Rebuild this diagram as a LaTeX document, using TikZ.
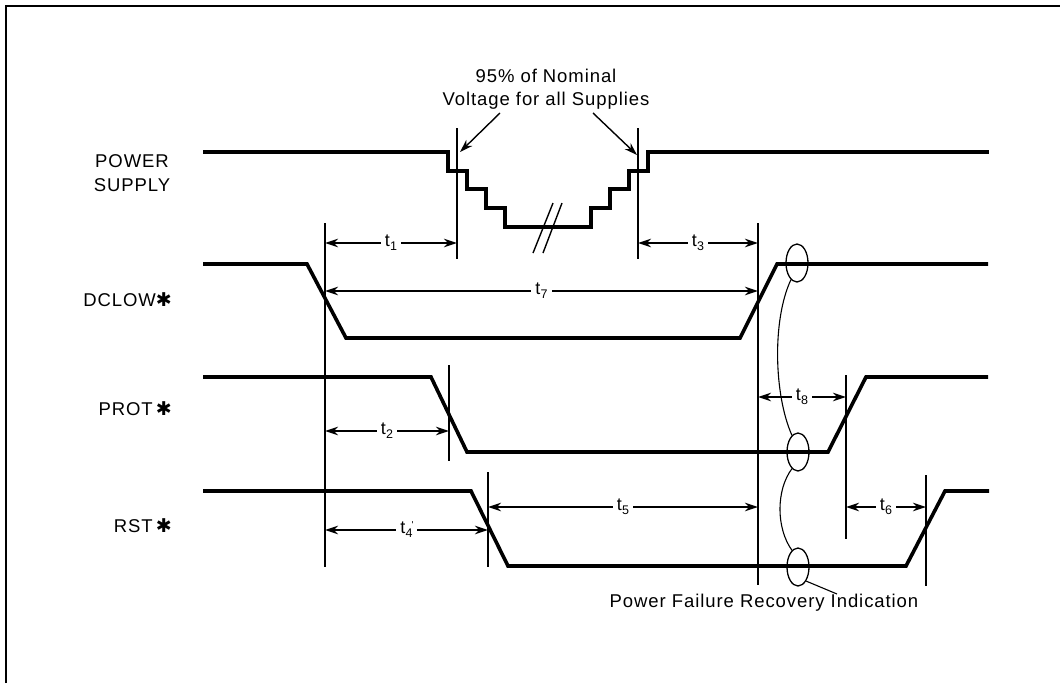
\documentclass[tikz,border=0pt]{standalone}
\usepackage{fontspec}
\setmainfont{Liberation Sans}[LetterSpace=5]
\newfontfamily\symfont{DejaVu Sans}
\usetikzlibrary{arrows.meta,shapes.geometric}
\newcommand{\tsub}[1]{t\kern0.3pt\raisebox{-4pt}{\fontsize{12.5}{12.5}\selectfont #1}}
\newcommand{\hast}{{\symfont\fontsize{19}{19}\selectfont\char"2731}}
\tikzset{
  sig/.style={line width=3.6pt, line join=miter, line cap=butt},
  guide/.style={line width=1.4pt},
  dimline/.style={line width=1.4pt, {Stealth[length=13pt,width=8.5pt]}-{Stealth[length=13pt,width=8.5pt]}},
  ptr/.style={line width=1.4pt, -{Stealth[length=13pt,width=8.5pt]}},
  tlab/.style={fill=white, inner sep=4pt, font=\fontsize{18}{20}\selectfont},
  lab/.style={font=\fontsize{18.5}{23.5}\selectfont, align=center, inner sep=0pt},
  ring/.style={ellipse, draw, line width=1.3pt, minimum width=22pt, minimum height=38pt, inner sep=0pt},
}
\begin{document}
\begin{tikzpicture}[x=1pt,y=-1pt]
\useasboundingbox (0,0) rectangle (1060,683);
% frame
\draw[line width=2.4pt] (6,683) -- (6,6) -- (1060,6);

% signal labels
\node[lab] (lps) at (132,173) {POWER\\SUPPLY};
\node[lab, anchor=east] (ldc) at (172,300) {DCLOW\hast};
\node[lab, anchor=east] (lpr) at (172,409) {PROT\,\hast};
\node[lab, anchor=east] (lrs) at (172,526) {RST\,\hast};

% waveforms
\draw[sig] (203,152) -- (448,152) -- (448,171) -- (467,171) -- (467,189) -- (486,189)
  -- (486,208) -- (505,208) -- (505,227) -- (591,227) -- (591,208) -- (610,208)
  -- (610,189) -- (629,189) -- (629,171) -- (648,171) -- (648,152) -- (989,152);
\draw[guide] (533,253) -- (553,203);
\draw[guide] (543,253) -- (562,203);

\draw[sig] (203,264) -- (307,264) -- (346,338) -- (740,338) -- (777,264) -- (988,264);
\draw[sig] (203,377) -- (431,377) -- (467,452) -- (828,452) -- (866,377) -- (988,377);
\draw[sig] (203,491) -- (471,491) -- (508,566) -- (906,566) -- (945,491) -- (989,491);

% guide lines
\coordinate (g1a) at (457,128); \coordinate (g1b) at (457,259);
\coordinate (g2a) at (638,128); \coordinate (g2b) at (638,259);
\coordinate (g3a) at (325,223); \coordinate (g3b) at (325,567);
\coordinate (g4a) at (758,223); \coordinate (g4b) at (758,585);
\coordinate (g5a) at (449,365); \coordinate (g5b) at (449,461);
\coordinate (g6a) at (846,375); \coordinate (g6b) at (846,539);
\coordinate (g7a) at (488,472); \coordinate (g7b) at (488,567);
\coordinate (g8a) at (926,475); \coordinate (g8b) at (926,586);
\foreach \g in {1,...,8} {\draw[guide] (g\g a) -- (g\g b);}

% dimensions
\coordinate (d1a) at (325,243); \coordinate (d1b) at (457,243);
\coordinate (d3a) at (638,243); \coordinate (d3b) at (758,243);
\coordinate (d7a) at (325,291); \coordinate (d7b) at (758,291);
\coordinate (d2a) at (325,431); \coordinate (d2b) at (449,431);
\coordinate (d8a) at (758,397); \coordinate (d8b) at (846,397);
\coordinate (d5a) at (488,507); \coordinate (d5b) at (758,507);
\coordinate (d4a) at (325,530); \coordinate (d4b) at (488,530);
\coordinate (d6a) at (846,507); \coordinate (d6b) at (926,507);
\draw[dimline] (d1a) -- node[tlab] (lt1) {\tsub{1}} (d1b);
\draw[dimline] (d3a) -- node[tlab] (lt3) {\tsub{3}} (d3b);
\draw[dimline] (d7a) -- node[tlab] (lt7) {\tsub{7}} (d7b);
\draw[dimline] (d2a) -- node[tlab] (lt2) {\tsub{2}} (d2b);
\draw[dimline] (d8a) -- node[tlab] (lt8) {\tsub{8}} (d8b);
\draw[dimline] (d5a) -- node[tlab] (lt5) {\tsub{5}} (d5b);
\draw[dimline] (d4a) -- node[tlab] (lt4) {t\kern0.3pt\raisebox{-4pt}{\fontsize{12.5}{12.5}\selectfont 4\llap{\raisebox{9pt}{\fontsize{10}{10}\selectfont\textquotesingle\kern-1pt}}}} (d4b);
\draw[dimline] (d6a) -- node[tlab] (lt6) {\tsub{6}} (d6b);

% top annotation
\node[lab] (nom) at (546,89) {95\% of Nominal\\Voltage for all Supplies};
\coordinate (p1a) at (500,113); \coordinate (p1b) at (460,152);
\coordinate (p2a) at (593,113); \coordinate (p2b) at (637,155);
\draw[ptr] (p1a) -- (p1b);
\draw[ptr] (p2a) -- (p2b);

% power failure recovery indication
\node[ring] (e1) at (797,263) {};
\node[ring] (e2) at (798,452) {};
\node[ring] (e3) at (798,567) {};
\draw[guide, line width=1.1pt] (e1.250) .. controls (772,320) and (774,395) .. (e2.110);
\draw[guide, line width=1.1pt] (e2.250) .. controls (776,490) and (776,528) .. (e3.110);
\node[lab] (pfr) at (764,603) {Power Failure Recovery Indication};
\coordinate (pfrtip) at (837,594);
\draw[guide, line width=1.1pt] (e3.300) -- (pfrtip);
\end{tikzpicture}
\end{document}
